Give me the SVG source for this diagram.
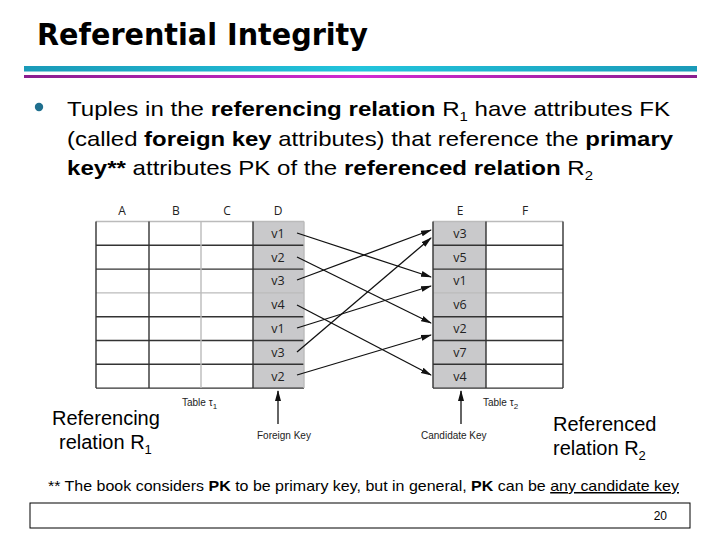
<svg xmlns="http://www.w3.org/2000/svg" width="720" height="540" viewBox="0 0 720 540">
<defs>
<linearGradient id="gc" x1="0" x2="1" y1="0" y2="0"><stop offset="0" stop-color="#1a9ab8"/><stop offset="0.5" stop-color="#22c4dc"/><stop offset="1" stop-color="#1a9ab8"/></linearGradient>
<linearGradient id="gm" x1="0" x2="1" y1="0" y2="0"><stop offset="0" stop-color="#8a1e8e"/><stop offset="0.5" stop-color="#d22ad2"/><stop offset="1" stop-color="#8a1e8e"/></linearGradient>
<marker id="ah" markerWidth="11" markerHeight="8" refX="10" refY="4" orient="auto" markerUnits="userSpaceOnUse"><path d="M0,1 L11,4 L0,7 Z" fill="#111"/></marker>
<style>
.t{font-family:"Liberation Sans",Arial,sans-serif;fill:#000}
.b{font-weight:bold}
.hd{font-family:"Open Sans","DejaVu Sans",sans-serif;font-size:12px;fill:#222;text-anchor:middle}
.cv{font-family:"Open Sans","DejaVu Sans",sans-serif;font-size:12.5px;fill:#222;text-anchor:middle}
.sm{font-family:"Liberation Sans",Arial,sans-serif;font-size:10px;fill:#222}
.dk{stroke:#333;stroke-width:1.4}
.lt{stroke:#bbb;stroke-width:1.4}
.sh{fill:#c9c9cb}
.ar{stroke:#111;stroke-width:1.3;fill:none;marker-end:url(#ah)}
</style>
</defs>
<rect width="720" height="540" fill="#fff"/>
<text x="37" y="45" font-family="DejaVu Sans,sans-serif" font-weight="bold" font-size="30" textLength="331" lengthAdjust="spacingAndGlyphs" fill="#000">Referential Integrity</text>
<rect x="24" y="66" width="673" height="5.5" fill="url(#gc)"/>
<rect x="24" y="75" width="673" height="3" fill="url(#gm)"/>

<g id="bullet">
<circle cx="39" cy="107" r="4.2" fill="#1f6f8e"/>
<text class="t" font-size="21" x="67" y="116" textLength="603" lengthAdjust="spacingAndGlyphs">Tuples in the <tspan class="b">referencing relation</tspan> R<tspan font-size="13" dy="5">1</tspan><tspan dy="-5"> have attributes FK</tspan></text>
<text class="t" font-size="21" x="67" y="146" textLength="606" lengthAdjust="spacingAndGlyphs">(called <tspan class="b">foreign key</tspan> attributes) that reference the <tspan class="b">primary</tspan></text>
<text class="t" font-size="21" x="67" y="175" textLength="526" lengthAdjust="spacingAndGlyphs"><tspan class="b">key**</tspan> attributes PK of the <tspan class="b">referenced relation</tspan> R<tspan font-size="13" dy="5">2</tspan></text>
</g>

<g id="table1">
<rect x="253" y="221.5" width="51" height="166.6" class="sh"/>
<text class="hd" x="122" y="215">A</text><text class="hd" x="176" y="215">B</text><text class="hd" x="227" y="215">C</text><text class="hd" x="278" y="215">D</text>
<line x1="96" y1="221.5" x2="304" y2="221.5" class="lt"/>
<line x1="96" y1="245.3" x2="304" y2="245.3" class="dk"/>
<line x1="96" y1="269.1" x2="304" y2="269.1" class="dk"/>
<line x1="96" y1="292.9" x2="304" y2="292.9" class="lt"/>
<line x1="96" y1="316.7" x2="304" y2="316.7" class="dk"/>
<line x1="96" y1="340.5" x2="304" y2="340.5" class="dk"/>
<line x1="96" y1="364.3" x2="304" y2="364.3" class="dk"/>
<line x1="96" y1="388.1" x2="304" y2="388.1" class="dk"/>
<line x1="96" y1="221.5" x2="96" y2="388.1" class="dk"/>
<line x1="149" y1="221.5" x2="149" y2="388.1" class="dk"/>
<line x1="201" y1="221.5" x2="201" y2="388.1" class="lt"/>
<line x1="253" y1="221.5" x2="253" y2="388.1" class="dk"/>
<line x1="304" y1="221.5" x2="304" y2="388.1" class="lt"/>
<text class="cv" x="278" y="238">v1</text>
<text class="cv" x="278" y="262">v2</text>
<text class="cv" x="278" y="285">v3</text>
<text class="cv" x="278" y="309">v4</text>
<text class="cv" x="278" y="333">v1</text>
<text class="cv" x="278" y="357">v3</text>
<text class="cv" x="278" y="381">v2</text>
<text class="sm" x="182" y="406">Table τ<tspan font-size="8" dy="3">1</tspan></text>
</g>

<g id="table2">
<rect x="433" y="221.5" width="53" height="166.6" class="sh"/>
<text class="hd" x="460" y="215">E</text><text class="hd" x="525" y="215">F</text>
<line x1="433" y1="221.5" x2="563" y2="221.5" class="lt"/>
<line x1="433" y1="245.3" x2="563" y2="245.3" class="dk"/>
<line x1="433" y1="269.1" x2="563" y2="269.1" class="dk"/>
<line x1="433" y1="292.9" x2="563" y2="292.9" class="lt"/>
<line x1="433" y1="316.7" x2="563" y2="316.7" class="dk"/>
<line x1="433" y1="340.5" x2="563" y2="340.5" class="dk"/>
<line x1="433" y1="364.3" x2="563" y2="364.3" class="dk"/>
<line x1="433" y1="388.1" x2="563" y2="388.1" class="dk"/>
<line x1="433" y1="221.5" x2="433" y2="388.1" class="dk"/>
<line x1="486" y1="221.5" x2="486" y2="388.1" class="dk"/>
<line x1="563" y1="221.5" x2="563" y2="388.1" class="dk"/>
<text class="cv" x="460" y="238">v3</text>
<text class="cv" x="460" y="262">v5</text>
<text class="cv" x="460" y="285">v1</text>
<text class="cv" x="460" y="309">v6</text>
<text class="cv" x="460" y="333">v2</text>
<text class="cv" x="460" y="357">v7</text>
<text class="cv" x="460" y="381">v4</text>
<text class="sm" x="483" y="406">Table τ<tspan font-size="8" dy="3">2</tspan></text>
</g>

<g id="connectors">
<line x1="297" y1="233" x2="431" y2="277" class="ar"/>
<line x1="297" y1="257" x2="431" y2="323" class="ar"/>
<line x1="297" y1="280" x2="431" y2="230" class="ar"/>
<line x1="297" y1="305" x2="431" y2="375" class="ar"/>
<line x1="297" y1="328" x2="431" y2="286" class="ar"/>
<line x1="297" y1="352" x2="431" y2="238" class="ar"/>
<line x1="297" y1="375" x2="431" y2="335" class="ar"/>
<line x1="278" y1="424" x2="278" y2="391" class="ar" stroke-width="1"/>
<line x1="461" y1="424" x2="461" y2="391" class="ar" stroke-width="1"/>
</g>

<g id="labels">
<text class="sm" x="257" y="439">Foreign Key</text>
<text class="sm" x="421" y="439">Candidate Key</text>
<text class="t" font-size="20" x="52" y="425">Referencing</text>
<text class="t" font-size="20" x="59" y="449">relation R<tspan font-size="13" dy="5">1</tspan></text>
<text class="t" font-size="20" x="553" y="431">Referenced</text>
<text class="t" font-size="20" x="553" y="455">relation R<tspan font-size="13" dy="5">2</tspan></text>
</g>

<text class="t" font-size="15" x="48" y="491" textLength="631" lengthAdjust="spacingAndGlyphs">** The book considers <tspan class="b">PK</tspan> to be primary key, but in general, <tspan class="b">PK</tspan> can be <tspan text-decoration="underline">any candidate key</tspan></text>
<g id="footer">
<rect x="30" y="503" width="660" height="25" fill="none" stroke="#000" stroke-width="1"/>
<text class="t" font-size="12" x="667" y="520" text-anchor="end">20</text>
</g>
</svg>
